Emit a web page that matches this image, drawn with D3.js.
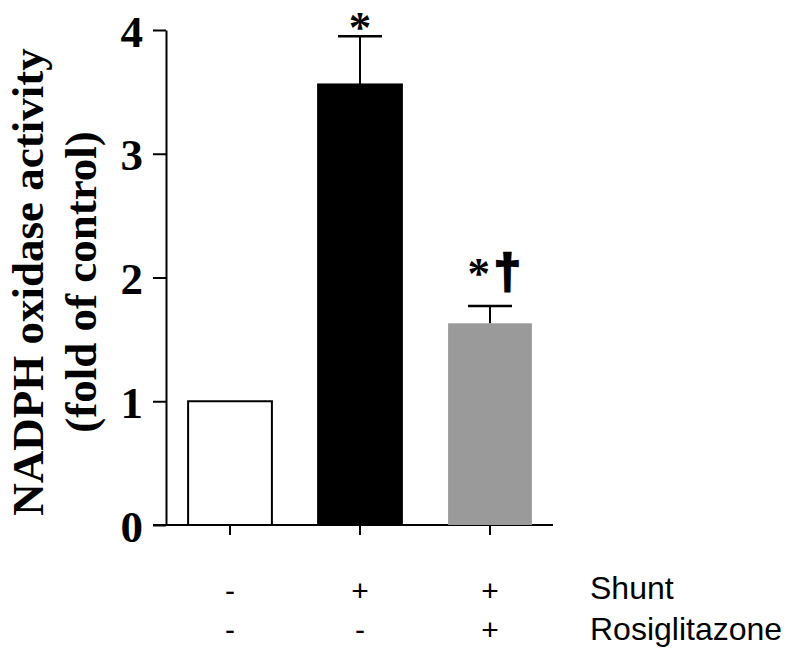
<!DOCTYPE html>
<html>
<head>
<meta charset="utf-8">
<script src="https://cdn.jsdelivr.net/npm/d3@7"></script>
<style>
  body { margin: 0; background: #fff; }
</style>
</head>
<body>
<div id="viz"></div>
<script>
// chart values
var groups = ["Control", "Shunt", "Shunt + Rosiglitazone"];
var means = [1.0, 3.56, 1.63];
var errors = [0, 0.39, 0.14];
var marks = ["", "*", "*†"];
var yTicks = [0, 1, 2, 3, 4];
var shuntRow = ["-", "+", "+"];
var rosiRow = ["-", "-", "+"];
var rowNames = ["Shunt", "Rosiglitazone"];

var width = 800, height = 655;
var fills = ["#ffffff", "#000000", "#9a9a9a"];
var strokes = ["#000", "#000", "none"];

var svg = d3.select("#viz")
  .append("svg")
  .attr("width", width)
  .attr("height", height);

var x = d3.scaleBand()
  .domain(groups)
  .range([165, 555])
  .paddingInner(0.34)
  .paddingOuter(0.17);

var y = d3.scaleLinear()
  .domain([0, 4])
  .range([525, 30]);

// y axis
var yAxis = svg.append("g")
  .attr("transform", "translate(166,0)")
  .call(d3.axisLeft(y).tickValues(yTicks).tickFormat(d3.format("d"))
    .tickSize(13).tickSizeOuter(0).tickPadding(10));
yAxis.selectAll("path, line").attr("stroke", "#000").attr("stroke-width", 2);
yAxis.selectAll("text")
  .attr("font-family", "'Liberation Serif', 'Times New Roman', serif")
  .attr("font-weight", "bold")
  .attr("font-size", 45)
  .attr("fill", "#000")
  .attr("dy", "0.36em");

// x axis
var xAxis = svg.append("g")
  .attr("transform", "translate(0," + y(0) + ")")
  .call(d3.axisBottom(x).tickSize(10).tickFormat(""));
xAxis.select(".domain").remove();
xAxis.selectAll("line").attr("stroke", "#000").attr("stroke-width", 2);
xAxis.append("line")
  .attr("x1", 153).attr("x2", 553)
  .attr("y1", 0).attr("y2", 0)
  .attr("stroke", "#000").attr("stroke-width", 2);

// bars
svg.selectAll(".bar")
  .data(groups)
  .enter().append("rect")
  .attr("class", "bar")
  .attr("x", d => x(d) + 1)
  .attr("width", x.bandwidth() - 2)
  .attr("y", (d, i) => y(means[i]))
  .attr("height", (d, i) => y(0) - y(means[i]))
  .attr("fill", (d, i) => fills[i])
  .attr("stroke", (d, i) => strokes[i])
  .attr("stroke-width", 2);

// error bars (upper only)
var errG = svg.selectAll(".err")
  .data(groups.filter((d, i) => errors[i] > 0))
  .enter().append("g")
  .attr("class", "err");
errG.append("line")
  .attr("x1", d => x(d) + x.bandwidth() / 2)
  .attr("x2", d => x(d) + x.bandwidth() / 2)
  .attr("y1", d => y(means[groups.indexOf(d)]))
  .attr("y2", d => { var i = groups.indexOf(d); return y(means[i] + errors[i]); })
  .attr("stroke", "#000").attr("stroke-width", 2);
errG.append("line")
  .attr("x1", d => x(d) + x.bandwidth() / 2 - 22)
  .attr("x2", d => x(d) + x.bandwidth() / 2 + 22)
  .attr("y1", d => { var i = groups.indexOf(d); return y(means[i] + errors[i]); })
  .attr("y2", d => { var i = groups.indexOf(d); return y(means[i] + errors[i]); })
  .attr("stroke", "#000").attr("stroke-width", 2.5);

// significance marks
var markOffset = [0, -6, 18];
groups.forEach(function(g, i) {
  if (!marks[i]) return;
  var t = svg.append("text")
    .attr("x", x(g) + x.bandwidth() / 2 + (marks[i].length > 1 ? 4 : 0))
    .attr("y", y(means[i] + errors[i]) - markOffset[i])
    .attr("text-anchor", "middle")
    .attr("font-family", "'Liberation Serif', 'Times New Roman', serif")
    .attr("font-weight", "bold")
    .attr("font-size", 45)
    .attr("fill", "#000");
  marks[i].split("").forEach(function(c) {
    var ts = t.append("tspan").text(c);
    if (c === "†") {
      ts.attr("font-family", "'Liberation Sans', Arial, sans-serif")
        .attr("font-size", 48)
        .attr("dx", 4)
        .attr("stroke", "#000")
        .attr("stroke-width", 2.5);
    }
  });
});

// y axis title
var title = svg.append("text")
  .attr("transform", "translate(43,282) rotate(-90)")
  .attr("text-anchor", "middle")
  .attr("font-family", "'Liberation Serif', 'Times New Roman', serif")
  .attr("font-weight", "bold")
  .attr("font-size", 45)
  .attr("fill", "#000");
title.append("tspan").attr("x", 0).attr("y", 0).text("NADPH oxidase activity");
title.append("tspan").attr("x", 0).attr("y", 53).text("(fold of control)");

// treatment rows under the axis
var rows = [shuntRow, rosiRow];
var rowBase = [601, 640];
rows.forEach(function(row, r) {
  svg.selectAll(".row" + r)
    .data(row)
    .enter().append("text")
    .attr("class", "row" + r)
    .attr("x", (d, i) => x(groups[i]) + x.bandwidth() / 2)
    .attr("y", rowBase[r])
    .attr("text-anchor", "middle")
    .attr("font-family", "'Liberation Sans', Arial, sans-serif")
    .attr("font-size", 30)
    .attr("fill", "#000")
    .text(d => d);
  svg.append("text")
    .attr("x", 590)
    .attr("y", rowBase[r] - (r === 0 ? 2 : 0))
    .attr("font-family", "'Liberation Sans', Arial, sans-serif")
    .attr("font-size", 32)
    .attr("fill", "#000")
    .text(rowNames[r]);
});
</script>
</body>
</html>
